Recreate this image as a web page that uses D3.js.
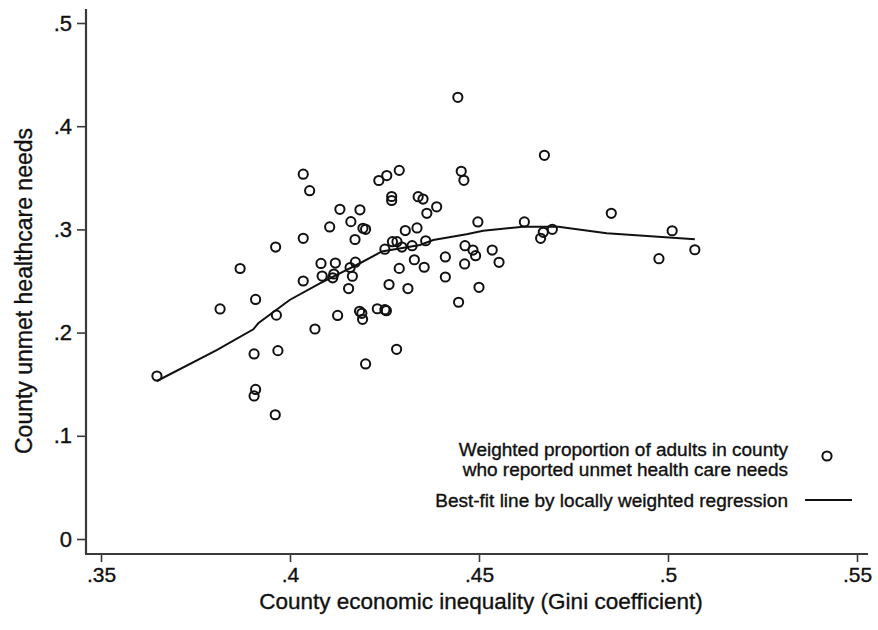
<!DOCTYPE html>
<html>
<head>
<meta charset="utf-8">
<script src="https://cdn.jsdelivr.net/npm/d3@7"></script>
<style>
    body { margin: 0; background: #fff; }
    svg { display: block; font-family: "Liberation Sans", Arial, sans-serif; }
</style>
</head>
<body>
<svg id="chart"></svg>
<script>
// county gini coefficient (x) and weighted share of adults with unmet needs (y)
var gini = [
    .3648, .3815, .3868, .3909, .3905, .3909, .3905, .3962, .3964, .3968,
    .3961, .4035, .4052, .4035, .4035, .4066, .4082, .4085, .4105, .4116,
    .4113, .4120, .4126, .4132, .4155, .4159, .4161, .4165, .4173, .4172,
    .4185, .4184, .4190, .4192, .4193, .4200, .4200, .4231, .4235, .4251,
    .4251, .4256, .4255, .4262, .4269, .4269, .4271, .4283, .4282, .4289,
    .4289, .4296, .4305, .4312, .4323, .4329, .4336, .4339, .4352, .4355,
    .4359, .4362, .4388, .4411, .4411, .4444, .4446, .4453, .4460, .4462,
    .4463, .4484, .4491, .4497, .4500, .4535, .4553, .4620, .4663, .4670,
    .4673, .4694, .4850, .4976, .5011, .5071
];
var unmet = [
    .1579, .2229, .2621, .2321, .1793, .1449, .1386, .2829, .2169, .1825,
    .1204, .3535, .3375, .2914, .2500, .2035, .2670, .2548, .3024, .2568,
    .2531, .2674, .2166, .3195, .2427, .2631, .3075, .2546, .2682, .2902,
    .3190, .2207, .2187, .2129, .3011, .3001, .1696, .2231, .3474, .2808,
    .2222, .3522, .2212, .2466, .3319, .3280, .2881, .2881, .1838, .3572,
    .2622, .2829, .2989, .2427, .2842, .2706, .3014, .3317, .3294, .2633,
    .2890, .3156, .3219, .2733, .2539, .4280, .2294, .3563, .3476, .2665,
    .2842, .2800, .2745, .3072, .2439, .2800, .2681, .3072, .2914, .2972,
    .3718, .3001, .3156, .2716, .2987, .2803
];

// lowess fit
var fitX = [.3648, .3806, .3903, .3916, .3999, .4079, .4185, .4243, .4344, .4379, .4467, .4511, .4617, .4710, .4838, .5071];
var fitY = [.1531, .1831, .2032, .2090, .2316, .2478, .2672, .2786, .2849, .2897, .2953, .2987, .3026, .3026, .2962, .2904];

var xTicks = [.35, .4, .45, .5, .55];
var yTicks = [0, .1, .2, .3, .4, .5];

var legendLabels = [
    ["Weighted proportion of adults in county", "who reported unmet health care needs"],
    ["Best-fit line by locally weighted regression"]
];

var w = 878;
var h = 630;

var svg = d3.select("#chart")
    .attr("width", w)
    .attr("height", h);

var xScale = d3.scaleLinear()
    .domain([.35, .55])
    .range([101, 857]);

var yScale = d3.scaleLinear()
    .domain([0, .5])
    .range([539, 23]);

// stata-style number labels: drop the leading zero
var fmt = d => d === 0 ? "0" : d3.format("")(d).replace(/^0/, "");

var axisColor = "#3a3a3a";
var ink = "#111";

// text in the original is a bit heavy, thin stroke thickens it
var heavy = sel => sel.attr("fill", ink).attr("stroke", ink).attr("stroke-width", 0.35);

// y axis
var yAxis = g => g
    .attr("transform", "translate(86,0)")
    .call(d3.axisLeft(yScale).tickValues(yTicks).tickFormat(fmt).tickSize(9).tickPadding(5))
    .call(g => g.select(".domain").remove())
    .call(g => g.selectAll("line").attr("stroke", axisColor).attr("stroke-width", 1.6))
    .call(g => g.selectAll("text").attr("font-size", 22).attr("font-family", null).call(heavy));

svg.append("g").call(yAxis);

// x axis
var xAxis = g => g
    .attr("transform", "translate(0,554)")
    .call(d3.axisBottom(xScale).tickValues(xTicks).tickFormat(fmt).tickSize(8).tickPadding(5))
    .call(g => g.select(".domain").remove())
    .call(g => g.selectAll("line").attr("stroke", axisColor).attr("stroke-width", 1.6))
    .call(g => g.selectAll("text").attr("font-size", 21).attr("font-family", null).call(heavy));

svg.append("g").call(xAxis);

// axis lines (plot region is a bit bigger than the tick range)
svg.append("line")
    .attr("x1", 86).attr("x2", 86)
    .attr("y1", 9).attr("y2", 554)
    .attr("stroke", axisColor)
    .attr("stroke-width", 2.2);

svg.append("line")
    .attr("x1", 85).attr("x2", 868)
    .attr("y1", 554).attr("y2", 554)
    .attr("stroke", axisColor)
    .attr("stroke-width", 2.2);

// titles
svg.append("text")
    .attr("x", 481)
    .attr("y", 609)
    .attr("text-anchor", "middle")
    .attr("font-size", 22.5)
    .call(heavy)
    .text("County economic inequality (Gini coefficient)");

svg.append("text")
    .attr("transform", "translate(32,291) rotate(-90)")
    .attr("text-anchor", "middle")
    .attr("font-size", 23)
    .call(heavy)
    .text("County unmet healthcare needs");

// scatter
var points = gini.map((g, i) => ({ x: g, y: unmet[i] }));

svg.append("g")
    .selectAll("circle")
    .data(points)
    .join("circle")
    .attr("cx", d => xScale(d.x))
    .attr("cy", d => yScale(d.y))
    .attr("r", 4.6)
    .attr("fill", "none")
    .attr("stroke", ink)
    .attr("stroke-width", 2);

// lowess line
var line = d3.line()
    .x(d => xScale(d[0]))
    .y(d => yScale(d[1]));

svg.append("path")
    .datum(fitX.map((x, i) => [x, fitY[i]]))
    .attr("d", line)
    .attr("fill", "none")
    .attr("stroke", ink)
    .attr("stroke-width", 2);

// legend - lines sit tight, so a slightly smaller font stretched to the original width
var legend = svg.append("g").attr("font-size", 17.5);
var stretch = 19 / 17.5;

var fitWidth = sel => sel.each(function () {
    var len = this.getComputedTextLength();
    d3.select(this)
        .attr("textLength", len * stretch)
        .attr("lengthAdjust", "spacingAndGlyphs");
});

legend.selectAll("text.l1")
    .data(legendLabels[0])
    .join("text")
    .attr("class", "l1")
    .attr("x", 788)
    .attr("y", (d, i) => 456 + i * 20)
    .attr("text-anchor", "end")
    .call(heavy)
    .text(d => d)
    .call(fitWidth);

legend.append("circle")
    .attr("cx", 827)
    .attr("cy", 456)
    .attr("r", 4.6)
    .attr("fill", "none")
    .attr("stroke", ink)
    .attr("stroke-width", 2);

legend.append("text")
    .attr("x", 788)
    .attr("y", 507)
    .attr("text-anchor", "end")
    .call(heavy)
    .text(legendLabels[1][0])
    .call(fitWidth);

legend.append("line")
    .attr("x1", 805).attr("x2", 852)
    .attr("y1", 500).attr("y2", 500)
    .attr("stroke", ink)
    .attr("stroke-width", 2);
</script>
</body>
</html>
